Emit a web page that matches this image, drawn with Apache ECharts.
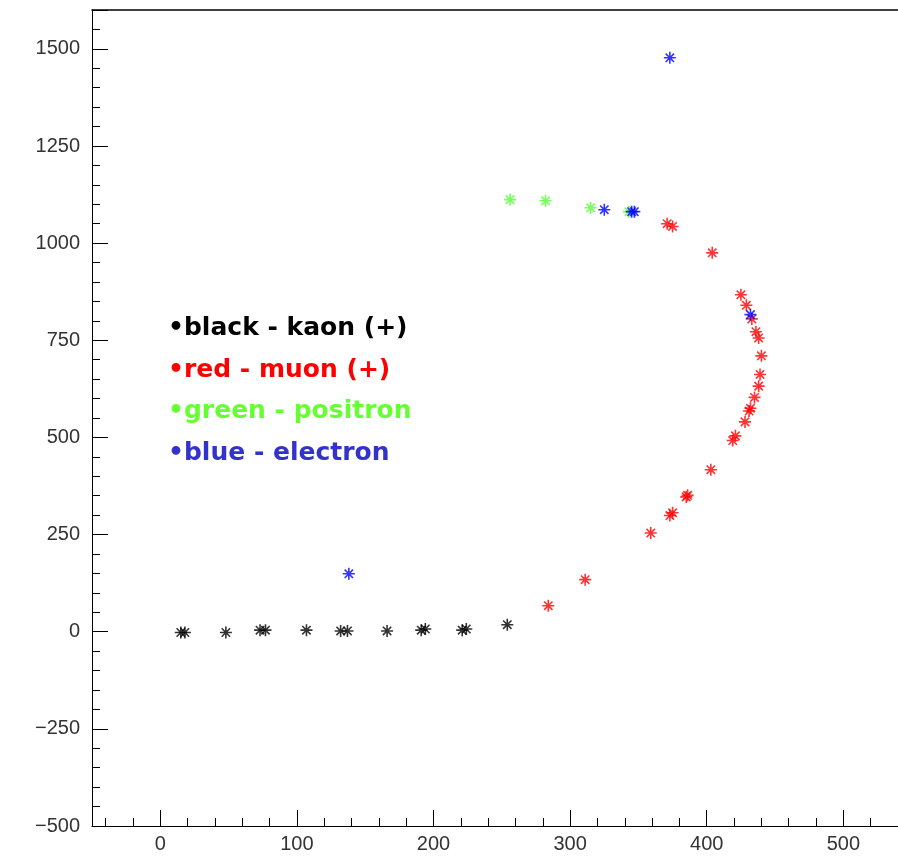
<!DOCTYPE html>
<html>
<head>
<meta charset="utf-8">
<script src="https://cdn.jsdelivr.net/npm/echarts@6/dist/echarts.min.js"></script>
<style>
html,body{margin:0;padding:0;background:#fff;}
#main{width:898px;height:856px;}
</style>
</head>
<body>
<div id="main"></div>
<script>
// track hits, [x, y]
var kaonPts = [[15,-2],[18,-2],[48,-2],[73,4],[77,4],[107,4],[132,2],[137,2],[166,2],
	[191,4],[194,7],[221,4],[224,7],[254,18]];
var muonPts = [[284,67],[311,134],[359,254],[373,299],[375,306],[385,347],[386,351],[403,417],
	[419,492],[421,504],[428,540],[431,568],[432,575],[435,603],[438,632],[439,662],[440,710],
	[438,756],[436,772],[433,805],[429,840],[425,867],[404,975],[375,1043],[371,1050]];
var positronPts = [[256,1112],[282,1109],[315,1091],[343,1081]];
var electronPts = [[138,149],[432,816],[325,1086],[345,1081],[347,1081],[373,1477]];

var legendLines = ['•black - kaon (+)', '•red - muon (+)', '•green - positron', '•blue - electron'];
var legendColors = ['#000000', '#ff0000', '#66ff33', '#3333cc'];

var star = 'path://M0,6L12,6M6,0L6,12M1.8,1.8L10.2,10.2M1.8,10.2L10.2,1.8';

var chart = echarts.init(document.getElementById('main'));

function hits(data, color) {
	return {
		type: 'scatter',
		data: data,
		symbol: star,
		symbolSize: 12,
		itemStyle: { color: 'rgba(0,0,0,0)', borderColor: color, borderWidth: 1.6 },
		emphasis: { disabled: true },
		animation: false
	};
}

function tickText(v) {
	return String(v).replace('-', '\u2212');
}

var graphics = [];
legendLines.forEach(function(t, i) {
	graphics.push({
		type: 'text',
		left: 168,
		top: 316 + i * 41.7,
		style: {
			text: t,
			fill: legendColors[i],
			font: 'bold 25px "DejaVu Sans", sans-serif'
		}
	});
});

var axisFont = { color: '#333', fontFamily: 'Liberation Sans', fontSize: 20 };

chart.setOption({
	animation: false,
	grid: { left: 92, right: -3, top: 10, bottom: 30, show: false },
	xAxis: [{
		type: 'value',
		min: -50,
		max: 540,
		splitNumber: 5,
		axisLine: { show: true, onZero: false, lineStyle: { color: '#000' } },
		axisTick: { show: true, inside: true, length: 16, lineStyle: { color: '#000' } },
		minorTick: { show: true, splitNumber: 5, length: 8, lineStyle: { color: '#000' } },
		splitLine: { show: false },
		axisLabel: Object.assign({ showMinLabel: false, showMaxLabel: false, margin: 8,
			formatter: tickText }, axisFont)
	}, {
		// top frame line only
		type: 'value',
		position: 'top',
		min: -50,
		max: 540,
		axisLine: { show: true, onZero: false, lineStyle: { color: '#000', width: 1.5 } },
		axisTick: { show: false },
		axisLabel: { show: false },
		splitLine: { show: false }
	}],
	yAxis: {
		type: 'value',
		min: -500,
		max: 1600,
		interval: 250,
		axisLine: { show: true, onZero: false, lineStyle: { color: '#000' } },
		axisTick: { show: true, inside: true, length: 16, lineStyle: { color: '#000' } },
		minorTick: { show: true, splitNumber: 5, length: 8, lineStyle: { color: '#000' } },
		splitLine: { show: false },
		axisLabel: Object.assign({ showMinLabel: true, showMaxLabel: false, margin: 12,
			formatter: tickText }, axisFont)
	},
	graphic: graphics,
	series: [
		hits(kaonPts, '#000000'),
		hits(muonPts, '#ff0000'),
		hits(positronPts, '#55ff33'),
		hits(electronPts, '#0000ff')
	]
});
</script>
</body>
</html>
